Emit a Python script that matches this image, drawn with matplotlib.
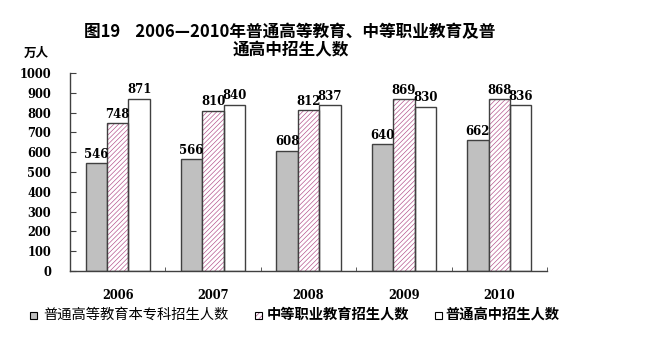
import numpy as np
import matplotlib
matplotlib.use("Agg")
import matplotlib.pyplot as plt
from matplotlib.patches import Rectangle

years = ["2006", "2007", "2008", "2009", "2010"]
higher_edu = [546, 566, 608, 640, 662]
vocational = [748, 810, 812, 869, 868]
high_school = [871, 840, 837, 830, 836]
series_names = ["普通高等教育本专科招生人数", "中等职业教育招生人数", "普通高中招生人数"]
yticks = [0, 100, 200, 300, 400, 500, 600, 700, 800, 900, 1000]

plt.rcParams['hatch.linewidth'] = 0.45

W, H = 664, 338
fig = plt.figure(figsize=(W / 100, H / 100), dpi=100)
ax = fig.add_axes([70 / W, 1 - 271 / H, (547 - 70) / W, (271 - 73) / H])

cjk = ['Noto Sans CJK SC', 'DejaVu Sans']
num_font = dict(family='DejaVu Serif', fontweight='bold')
edge = '#404040'
hatch_c = '#B04A86'

x = np.arange(len(years))
w = 0.225

# gray bars
ax.bar(x - w, higher_edu, w, color='#C0C0C0', edgecolor=edge, linewidth=1.0, zorder=2)
# hatched bars: hatch layer then outline
ax.bar(x, vocational, w, color='white', edgecolor=hatch_c, linewidth=0, hatch='///////', zorder=2)
ax.bar(x, vocational, w, fill=False, edgecolor=edge, linewidth=1.0, zorder=3)
# white bars
ax.bar(x + w, high_school, w, color='white', edgecolor=edge, linewidth=1.0, zorder=2)

for off, vals in ((-w, higher_edu), (0, vocational), (w, high_school)):
    for xi, v in zip(x, vals):
        ax.text(xi + off, v + 12, str(v), ha='center', va='bottom', fontsize=8.5, **num_font)

ax.set_xlim(-0.5, len(years) - 0.5)
ax.set_ylim(0, 1000)
ax.set_yticks(yticks)
ax.set_yticklabels([str(t) for t in yticks], fontsize=8.3, **num_font)
ax.set_xticks(x)
ax.set_xticklabels(years, fontsize=8.3, **num_font)
ax.set_xticks(np.arange(0.5, len(years), 1.0), minor=True)
ax.tick_params(axis='x', which='major', length=0, pad=13)
ax.tick_params(axis='x', which='minor', direction='in', length=3, color=edge)
ax.tick_params(axis='y', direction='in', length=4, color=edge, pad=13.5)

for s in ('top', 'right'):
    ax.spines[s].set_visible(False)
for s in ('left', 'bottom'):
    ax.spines[s].set_color(edge)
    ax.spines[s].set_linewidth(1.0)

# y unit label
fig.text(36 / W, 1 - 53 / H, "万人", ha='center', va='center', fontsize=9,
         family=cjk, fontweight='bold')

# title
fig.text(290 / W, 1 - 32 / H, "图19    2006—2010年普通高等教育、中等职业教育及普",
         ha='center', va='center', fontsize=12, family=cjk, fontweight='bold')
fig.text(291 / W, 1 - 50 / H, "通高中招生人数",
         ha='center', va='center', fontsize=12, family=cjk, fontweight='bold')

# legend (manual)
ly = 315
items = [
    (30, 43, dict(facecolor='#C0C0C0', edgecolor='black'), 'normal', series_names[0]),
    (255, 267, dict(facecolor='white', edgecolor=hatch_c, hatch='//////'), 'bold', series_names[1]),
    (435, 445, dict(facecolor='white', edgecolor='black'), 'bold', series_names[2]),
]
for bx, tx, style, wt, label in items:
    lw = 0 if 'hatch' in style else 0.8
    r = Rectangle((bx / W, 1 - (ly + 3.5) / H), 7 / W, 7 / H, transform=fig.transFigure,
                  linewidth=lw, **style)
    fig.add_artist(r)
    if 'hatch' in style:
        r2 = Rectangle((bx / W, 1 - (ly + 3.5) / H), 7 / W, 7 / H, transform=fig.transFigure,
                       fill=False, edgecolor='black', linewidth=0.8)
        fig.add_artist(r2)
    fig.text(tx / W, 1 - ly / H, label, ha='left', va='center', fontsize=10.3,
             family=cjk, fontweight=wt)

fig.savefig("out.png", dpi=100)
